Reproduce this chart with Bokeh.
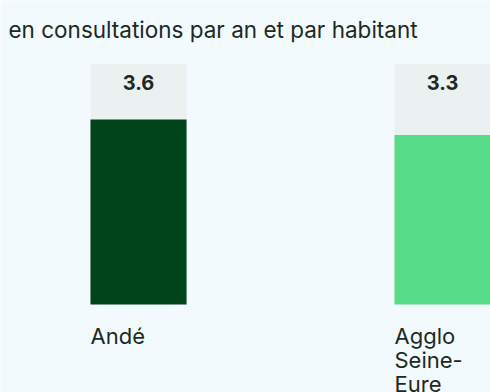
from bokeh.plotting import figure
from bokeh.models import Range1d, ColumnDataSource, Label
from bokeh.core.properties import value
from bokeh.embed import file_html
from bokeh.resources import INLINE

# Data
categories = ["Andé", "Agglo Seine-Eure"]
category_lines = [["Andé"], ["Agglo", "Seine-", "Eure"]]
consultations = [3.6, 3.3]
bar_colors = ["#01441b", "#56dc87"]
subtitle = "en consultations par an et par habitant"

FONT = "Inter"
BG = "#f3fafe"
TEXT = "#1c2a22"

W, H = 490, 392
bar_w = 0.316
cap = max(consultations) * 1.3
LINE_STEP = 24  # px between wrapped label lines

xs = list(range(len(categories)))
src = ColumnDataSource(dict(
    x=xs,
    val=consultations,
    cap=[cap] * len(xs),
    label=[f"{v:.1f}" for v in consultations],
    color=bar_colors,
))

# One row per wrapped line of each category label
lx, ltext, loff = [], [], []
for x, lines in zip(xs, category_lines):
    for i, line in enumerate(lines):
        lx.append(x - bar_w / 2)
        ltext.append(line)
        loff.append(18 + LINE_STEP * i)
lab_src = ColumnDataSource(dict(x=lx, y=[0] * len(lx), text=ltext, off=loff))

p = figure(width=W, height=H, output_backend="svg", toolbar_location=None,
           x_range=Range1d(-0.454, -0.454 + W / 304),
           y_range=Range1d(-88 / 51.4, 304 / 51.4),
           min_border=0, background_fill_color=BG, border_fill_color=BG)
p.axis.visible = False
p.grid.visible = False
p.outline_line_color = None

# Grey track up to the common cap, then the value bar
p.vbar(x="x", top="cap", bottom=0, width=bar_w, source=src,
       fill_color="#ebf0f1", line_color=None)
p.vbar(x="x", top="val", bottom=0, width=bar_w, source=src,
       fill_color="color", line_color=None)

# Value labels inside the grey track
p.text(x="x", y="cap", text="label", source=src, text_align="center",
       text_baseline="top", y_offset=11, text_font=value(FONT),
       text_font_size="20px", text_font_style="bold", text_color=TEXT)

# Category labels under the bars
p.text(x="x", y="y", text="text", source=lab_src, text_align="left",
       text_baseline="top", y_offset="off", text_font=value(FONT),
       text_font_size="22px", text_color=TEXT)

p.add_layout(Label(x=8, y=H - 29, x_units="screen", y_units="screen",
                   text=subtitle, text_font=FONT, text_font_size="22.5px",
                   text_color=TEXT, text_baseline="alphabetic"))

open("out.html", "w").write(file_html(p, INLINE))
